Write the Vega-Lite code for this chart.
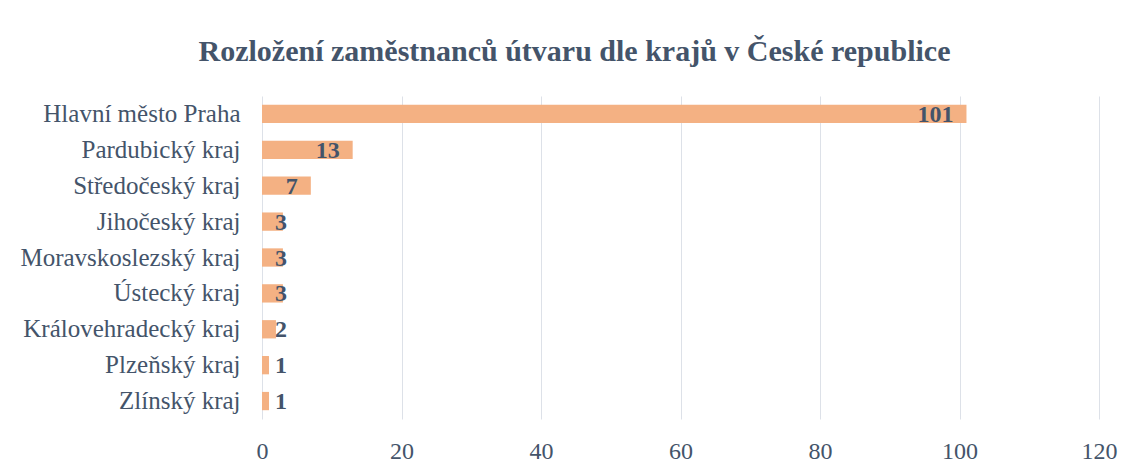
{
  "$schema": "https://vega.github.io/schema/vega-lite/v6.json",
  "autosize": {"type": "none"},
  "padding": {"left": 262, "top": 96, "right": 31, "bottom": 53},
  "width": 837,
  "height": 323,
  "background": "white",
  "title": {
    "text": "Rozložení zaměstnanců útvaru dle krajů v České republice",
    "font": "Liberation Serif",
    "fontSize": 30,
    "fontWeight": "bold",
    "color": "#44546A",
    "anchor": "middle",
    "frame": "group",
    "dx": -106,
    "offset": 29
  },
  "config": {
    "view": {"stroke": null},
    "axis": {"labelFont": "Liberation Serif", "labelColor": "#44546A", "labelFontSize": 25, "labelLimit": 0}
  },
  "data": {
    "values": [
      {"kraj": "Hlavní město Praha", "pocet": 101},
      {"kraj": "Pardubický kraj", "pocet": 13},
      {"kraj": "Středočeský kraj", "pocet": 7},
      {"kraj": "Jihočeský kraj", "pocet": 3},
      {"kraj": "Moravskoslezský kraj", "pocet": 3},
      {"kraj": "Ústecký kraj", "pocet": 3},
      {"kraj": "Královehradecký kraj", "pocet": 2},
      {"kraj": "Plzeňský kraj", "pocet": 1},
      {"kraj": "Zlínský kraj", "pocet": 1}
    ]
  },
  "encoding": {
    "y": {
      "field": "kraj",
      "type": "nominal",
      "sort": null,
      "title": null,
      "scale": {"paddingInner": 0.49, "paddingOuter": 0.245},
      "axis": {"ticks": false, "tickSize": 0, "labelPadding": 22, "domain": false, "grid": false, "labelLimit": 0}
    }
  },
  "layer": [
    {
      "mark": {"type": "bar", "color": "#F4B183"},
      "encoding": {
        "x": {
          "field": "pocet",
          "type": "quantitative",
          "title": null,
          "scale": {"domain": [0, 120], "nice": false},
          "axis": {
            "values": [0, 20, 40, 60, 80, 100, 120],
            "ticks": false,
            "tickSize": 0,
            "domain": false,
            "grid": true,
            "gridColor": "#DDE1E8",
            "gridWidth": 1,
            "labelPadding": 20,
            "labelFlush": false,
            "labelFontSize": 24
          }
        }
      }
    },
    {
      "transform": [{"filter": "datum.pocet >= 5"}],
      "mark": {"type": "text", "align": "right", "baseline": "middle", "dx": -13, "dy": 1, "font": "Liberation Serif", "fontSize": 24, "fontWeight": "bold", "color": "#44546A"},
      "encoding": {
        "x": {"field": "pocet", "type": "quantitative"},
        "text": {"field": "pocet", "type": "quantitative"}
      }
    },
    {
      "transform": [{"filter": "datum.pocet < 5"}],
      "mark": {"type": "text", "align": "left", "baseline": "middle", "dx": 13, "dy": 1, "font": "Liberation Serif", "fontSize": 24, "fontWeight": "bold", "color": "#44546A"},
      "encoding": {
        "x": {"datum": 0, "type": "quantitative"},
        "text": {"field": "pocet", "type": "quantitative"}
      }
    }
  ]
}
